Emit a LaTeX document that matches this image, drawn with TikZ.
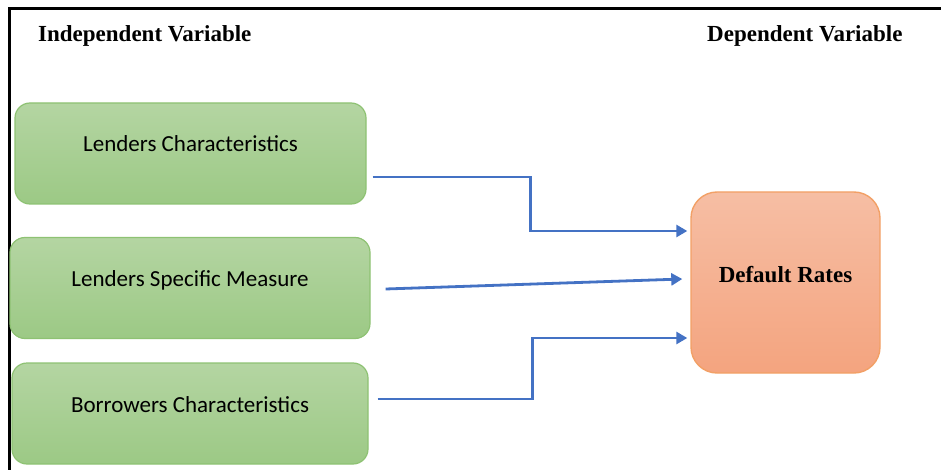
\documentclass[tikz,border=0pt]{standalone}
\usepackage{fontspec}
\setmainfont{Liberation Serif}
\newfontfamily\boxfont{Carlito}
\usetikzlibrary{calc, positioning, arrows.meta}

\definecolor{greentop}{HTML}{B4D5A2}
\definecolor{greenbot}{HTML}{9CC985}
\definecolor{greenline}{HTML}{8EC273}
\definecolor{orangetop}{HTML}{F6BEA4}
\definecolor{orangebot}{HTML}{F4A47F}
\definecolor{orangeline}{HTML}{F2A066}
\definecolor{linkblue}{HTML}{4472C4}

\begin{document}
\begin{tikzpicture}[x=1pt, y=-1pt,
  heading/.style={font=\bfseries\fontsize{23}{26}\selectfont, inner sep=0pt, anchor=base west},
  indepbox/.style={draw=greenline, line width=1.2pt, rounded corners=15pt,
    top color=greentop, bottom color=greenbot, minimum height=101pt,
    font=\boxfont\fontsize{23}{26}\selectfont, text height=16pt, text depth=19pt},
  depbox/.style={draw=orangeline, line width=1.4pt, rounded corners=26pt,
    top color=orangetop, bottom color=orangebot, minimum width=189pt, minimum height=181pt,
    font=\bfseries\fontsize{23}{26}\selectfont, text height=16pt, text depth=16pt},
  link/.style={draw=linkblue, line width=2.8pt, -{Triangle[length=11pt,width=12pt]}}]
\useasboundingbox (0,0) rectangle (941,470);

% Draw frame
\draw[line width=2.7pt] (9.5,470) -- (9.5,8.7) -- (941,8.7);

% Headings
\node[heading] (indep) at (38,42) {Independent Variable};
\node[heading] (dep) at (707,42) {Dependent Variable};

% Independent variables
\node[indepbox, minimum width=351pt] (lchar) at (190.5,153.5) {Lenders Characteristics};
\node[indepbox, minimum width=360pt] (lspec) at (190,288) {Lenders Specific Measure};
\node[indepbox, minimum width=356pt] (bchar) at (190,413.5) {Borrowers Characteristics};

% Dependent variable
\node[depbox] (rates) at (785.5,282.5) {Default Rates};

% Draw links
\draw[link] ([xshift=6pt,yshift=-23.5pt]lchar.east) -- ++(158,0) |- ([xshift=-3pt,yshift=51.5pt]rates.west);
\draw[link] ([xshift=15pt,yshift=-1pt]lspec.east) -- ([xshift=-8pt,yshift=3.5pt]rates.west);
\draw[link] ([xshift=9pt,yshift=14.5pt]bchar.east) -- ++(155,0) |- ([xshift=-3pt,yshift=-55.5pt]rates.west);
\end{tikzpicture}
\end{document}
